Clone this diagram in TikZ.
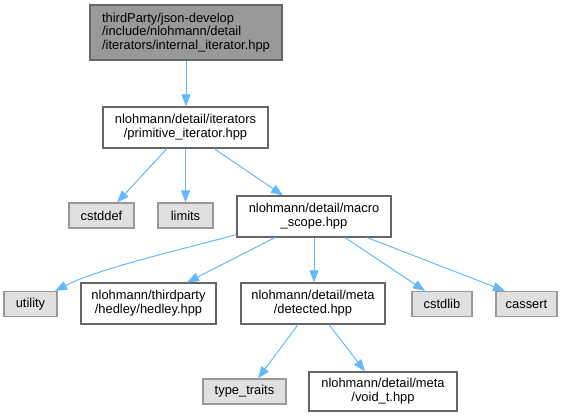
\documentclass[tikz,border=0pt]{standalone}
\usepackage{fontspec}
\setmainfont{Liberation Sans}
\usetikzlibrary{arrows.meta}
\definecolor{edgeblue}{HTML}{63B8FF}
\definecolor{boxborder}{HTML}{666666}
\definecolor{sysborder}{HTML}{999999}
\definecolor{sysfill}{HTML}{E0E0E0}
\definecolor{topfill}{HTML}{999999}
\begin{document}
\begin{tikzpicture}[x=1pt,y=1pt,
  box/.style={draw=boxborder, line width=1.1pt, inner sep=0pt, align=center,
    font=\fontsize{12.9}{13.7}\selectfont},
  whitebox/.style={box, fill=white},
  sysbox/.style={box, fill=sysfill, draw=sysborder, minimum height=25pt},
  topbox/.style={box, fill=topfill, draw=boxborder, align=left},
  dep/.style={draw=edgeblue, line width=1pt, -{Triangle[length=12pt,width=9pt]}}]
\useasboundingbox (0,0) rectangle (567,417);

\node[topbox, minimum width=192pt, minimum height=55pt] (top) at (186,384.5)
  {thirdParty/json-develop\\/include/nlohmann/detail\\/iterators/internal\_iterator.hpp};
\node[whitebox, minimum width=165pt, minimum height=41pt] (prim) at (185.5,289.5)
  {nlohmann/detail/iterators\\/primitive\_iterator.hpp};
\node[sysbox, minimum width=65pt] (cstddef) at (101.5,201.5) {cstddef};
\node[sysbox, minimum width=55pt] (limits) at (185.5,201.5) {limits};
\node[whitebox, minimum width=154pt, minimum height=41pt] (macro) at (314,200.5)
  {nlohmann/detail/macro\\\_scope.hpp};
\node[sysbox, minimum width=53pt] (utility) at (30.5,113) {utility};
\node[whitebox, minimum width=135pt, minimum height=41pt] (hedley) at (148.5,113.5)
  {nlohmann/thirdparty\\/hedley/hedley.hpp};
\node[whitebox, minimum width=144pt, minimum height=41pt] (detected) at (313,113.5)
  {nlohmann/detail/meta\\/detected.hpp};
\node[sysbox, minimum width=60pt] (cstdlib) at (442,113) {cstdlib};
\node[sysbox, minimum width=61pt] (cassert) at (526.5,113) {cassert};
\node[sysbox, minimum width=83pt] (types) at (244.5,25.5) {type\_traits};
\node[whitebox, minimum width=148pt, minimum height=39pt] (voidt) at (383,25.5)
  {nlohmann/detail/meta\\/void\_t.hpp};

\draw[dep] (top.south) -- (top.south |- prim.north);
\draw[dep] ([xshift=-18.5pt]prim.south) -- ([xshift=15.5pt]cstddef.north);
\draw[dep] (prim.south) -- (limits.north);
\draw[dep] ([xshift=28.5pt]prim.south) -- ([xshift=-31pt]macro.north);
\draw[dep] ([yshift=3pt]macro.south west) .. controls (180,167) and (100,149) .. ([xshift=-2.5pt]utility.north east);
\draw[dep] ([xshift=-39pt]macro.south) -- ([xshift=38.5pt]hedley.north);
\draw[dep] (macro.south) -- (macro.south |- detected.north);
\draw[dep] ([xshift=31pt]macro.south) -- ([xshift=-17pt]cstdlib.north);
\draw[dep] ([xshift=53pt]macro.south) -- ([xshift=-21.5pt]cassert.north);
\draw[dep] ([xshift=-15pt]detected.south) -- ([xshift=13.5pt]types.north);
\draw[dep] ([xshift=16pt]detected.south) -- ([xshift=-18pt]voidt.north);
\end{tikzpicture}
\end{document}
